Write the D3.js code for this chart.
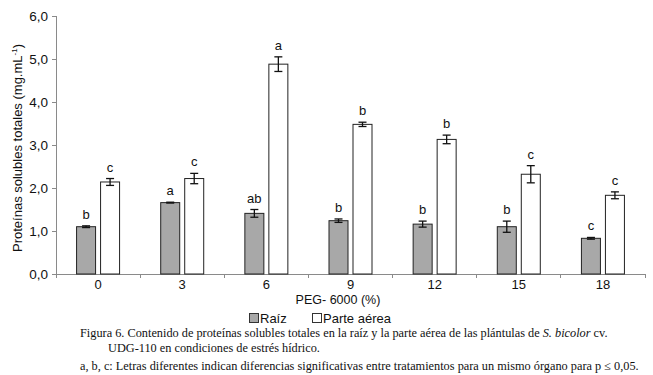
<!DOCTYPE html>
<meta charset="utf-8">
<style>
  body { margin: 0; background: #fff; }
  svg { font-family: "Liberation Sans", Arial, sans-serif; }
  .axis path, .axis line { stroke: #8a8a8a; shape-rendering: crispEdges; }
  .axis text { font-size: 13px; fill: #111; }
  .caption { font-family: "Liberation Serif", "Times New Roman", serif; font-size: 12.3px; fill: #111; }
</style>
<body>
<div id="chart"></div>
<script src="https://d3js.org/d3.v7.min.js"></script>
<script>
  // PEG-6000 concentration (%)
  var categories = ["0", "3", "6", "9", "12", "15", "18"];
  var raiz = [1.10, 1.66, 1.41, 1.24, 1.16, 1.10, 0.83];
  var raizErr = [0.02, 0.01, 0.09, 0.04, 0.07, 0.13, 0.02];
  var raizLetters = ["b", "a", "ab", "b", "b", "b", "c"];
  var aerea = [2.14, 2.22, 4.88, 3.48, 3.13, 2.32, 1.83];
  var aereaErr = [0.08, 0.12, 0.17, 0.05, 0.10, 0.20, 0.08];
  var aereaLetters = ["c", "c", "a", "b", "b", "c", "c"];
  var yTicks = [0, 1, 2, 3, 4, 5, 6];

  var W = 653, H = 375;
  var m = {top: 16, right: 8, bottom: 101, left: 56};
  var w = W - m.left - m.right, h = H - m.top - m.bottom;

  var svg = d3.select("#chart").append("svg")
      .attr("width", W).attr("height", H);
  var g = svg.append("g").attr("transform", "translate(" + m.left + "," + m.top + ")");

  var x = d3.scaleBand().domain(categories).range([0, w]);
  var y = d3.scaleLinear().domain([0, 6]).range([h, 0]);
  var barW = 19, gap = 5;

  // axes
  var yAxis = g.append("g").attr("class", "axis")
      .call(d3.axisLeft(y).tickValues(yTicks).tickSize(4).tickPadding(4)
        .tickFormat(function(d) { return d3.format(".1f")(d).replace(".", ","); }));
  yAxis.selectAll("text").style("font-size", "13.5px");

  var xAxis = g.append("g").attr("class", "axis")
      .attr("transform", "translate(0," + h + ")")
      .call(d3.axisBottom(x).tickSize(0).tickPadding(6));
  xAxis.select(".domain").attr("d", "M0,0H" + w);
  // tick marks between groups
  xAxis.selectAll(".sep").data(d3.range(categories.length + 1)).enter().append("line")
      .attr("class", "sep")
      .attr("x1", function(i) { return i * x.bandwidth(); })
      .attr("x2", function(i) { return i * x.bandwidth(); })
      .attr("y1", 0).attr("y2", 4);

  function series(vals, errs, letters, fill, offset) {
    var s = g.append("g");
    var cx = function(i) { return x(categories[i]) + x.bandwidth() / 2 + offset; };
    s.selectAll("rect").data(vals).enter().append("rect")
        .attr("x", function(d, i) { return cx(i) - barW / 2; })
        .attr("y", function(d) { return y(d); })
        .attr("width", barW)
        .attr("height", function(d) { return h - y(d); })
        .attr("fill", fill)
        .attr("stroke", "#222")
        .attr("stroke-width", 1);
    var e = s.selectAll(".err").data(vals).enter().append("g").attr("class", "err")
        .attr("stroke", "#111").attr("stroke-width", 1.3);
    e.append("line")
        .attr("x1", function(d, i) { return cx(i); }).attr("x2", function(d, i) { return cx(i); })
        .attr("y1", function(d, i) { return y(d - errs[i]); })
        .attr("y2", function(d, i) { return y(d + errs[i]); });
    e.append("line")
        .attr("x1", function(d, i) { return cx(i) - 4; }).attr("x2", function(d, i) { return cx(i) + 4; })
        .attr("y1", function(d, i) { return y(d + errs[i]); })
        .attr("y2", function(d, i) { return y(d + errs[i]); });
    e.append("line")
        .attr("x1", function(d, i) { return cx(i) - 4; }).attr("x2", function(d, i) { return cx(i) + 4; })
        .attr("y1", function(d, i) { return y(d - errs[i]); })
        .attr("y2", function(d, i) { return y(d - errs[i]); });
    s.selectAll(".lab").data(vals).enter().append("text")
        .attr("x", function(d, i) { return cx(i); })
        .attr("y", function(d, i) { return y(d + errs[i]) - 7; })
        .attr("text-anchor", "middle")
        .attr("font-size", 13)
        .attr("fill", "#111")
        .text(function(d, i) { return letters[i]; });
  }
  series(raiz, raizErr, raizLetters, "#a8a8a8", -(barW + gap) / 2);
  series(aerea, aereaErr, aereaLetters, "#fff", (barW + gap) / 2);

  // y title
  var yt = svg.append("text")
      .attr("transform", "translate(22," + (m.top + h / 2 + 3) + ") rotate(-90)")
      .attr("text-anchor", "middle")
      .attr("font-size", 13)
      .attr("fill", "#111");
  yt.append("tspan").text("Proteínas solubles totales (mg.mL");
  yt.append("tspan").attr("font-size", 8).attr("dy", -5).text("-1");
  yt.append("tspan").attr("dy", 5).text(")");

  // x title
  svg.append("text").attr("x", 338).attr("y", 304)
      .attr("text-anchor", "middle").attr("font-size", 12.5).attr("fill", "#111")
      .text("PEG- 6000 (%)");

  // legend
  var legend = [{name: "Raíz", fill: "#a8a8a8", x: 249}, {name: "Parte aérea", fill: "#fff", x: 312}];
  var lg = svg.selectAll(".legend").data(legend).enter().append("g")
      .attr("transform", function(d) { return "translate(" + d.x + ",312)"; });
  lg.append("rect").attr("x", 0.5).attr("y", 1.5).attr("width", 9).attr("height", 9)
      .attr("fill", function(d) { return d.fill; }).attr("stroke", "#333");
  lg.append("text").attr("x", 11).attr("y", 10.5).attr("font-size", 13).attr("fill", "#111")
      .text(function(d) { return d.name; });

  // caption
  var c1 = svg.append("text").attr("class", "caption").attr("x", 80).attr("y", 337);
  c1.append("tspan").text("Figura 6. Contenido de proteínas solubles totales en la raíz y la parte aérea de las plántulas de ");
  c1.append("tspan").attr("font-style", "italic").text("S. bicolor");
  c1.append("tspan").text(" cv.");
  svg.append("text").attr("class", "caption").attr("x", 108).attr("y", 352)
      .text("UDG-110 en condiciones de estrés hídrico.");
  svg.append("text").attr("class", "caption").attr("x", 80).attr("y", 370)
      .text("a, b, c: Letras diferentes indican diferencias significativas entre tratamientos para un mismo órgano para p ≤ 0,05.");
</script>
</body>
